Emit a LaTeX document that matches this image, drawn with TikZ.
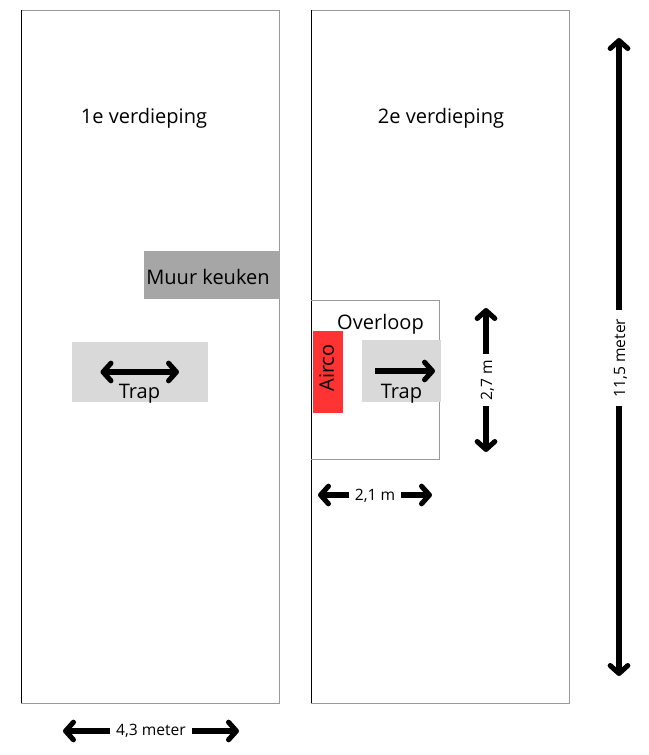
\documentclass[tikz,border=0pt]{standalone}
\usepackage{fontspec}
\setmainfont{Open Sans}
\usetikzlibrary{arrows.meta}
\tikzset{
    floorplan/.style={draw=gray!80, line width=0.5pt},
    wallline/.style={draw=black, line width=0.5pt},
    barbtip/.tip={Straight Barb[round, length=4.5pt, width=10pt, line width=2.9pt]},
    dimarrow/.style={-barbtip, line width=2.9pt},
    dimlabel/.style={font=\fontsize{8.9}{10}\selectfont, inner sep=0pt},
    roomlabel/.style={font=\fontsize{11.4}{14}\selectfont, inner sep=0pt}
}
\begin{document}
\begin{tikzpicture}[x=0.02cm, y=-0.02cm]
    \useasboundingbox (0,0) rectangle (649,755);
    % outlines
    \draw [floorplan] (21,10) rectangle (279,703);
    \draw [floorplan] (311,10) rectangle (569,703);
    \draw [wallline] (21,10) -- (21,703);
    \draw [wallline] (311,10) -- (311,703);
    \draw [floorplan] (311,300) -- (439,300) -- (439,459) -- (311,459);
    % filled parts
    \fill [gray!70] (144,251) rectangle (280,299);
    \fill [gray!30] (72,342) rectangle (208,402);
    \fill [gray!30] (362,340) rectangle (441,402);
    \fill [red!80!white] (313,331) rectangle (343,413);
    % texts
    \node (first) at (144,118) [roomlabel] {1e verdieping};
    \node (second) at (441,118) [roomlabel] {2e verdieping};
    \node (muur) at (208,277) [roomlabel] {Muur keuken};
    \node (overloop) at (380.5,324) [roomlabel] {Overloop};
    \node (airco) at (326.5,368) [roomlabel, rotate=90] {Airco};
    \node (trapa) at (139.5,394) [roomlabel] {Trap};
    \node (trapb) at (401.5,394) [roomlabel] {Trap};
    % arrows on the stairs
    \coordinate (trapaleft) at (100.5,372);
    \coordinate (traparight) at (179,372);
    \coordinate (trapbstart) at (375,371);
    \coordinate (trapbend) at (435,371);
    \draw [dimarrow, barbtip-barbtip] (trapaleft) -- (traparight);
    \draw [dimarrow] (trapbstart) -- (trapbend);
    % measures
    \node (height) at (620.5,358) [dimlabel, rotate=90, minimum width=95*0.02cm] {11,5 meter};
    \coordinate (heighttop) at (619,38);
    \coordinate (heightbottom) at (619,676);
    \draw [dimarrow] (heighttop |- height.east) -- (heighttop);
    \draw [dimarrow] (heightbottom |- height.west) -- (heightbottom);
    \node (width) at (151,731) [dimlabel, minimum width=82*0.02cm] {4,3 meter};
    \coordinate (widthleft) at (63,731);
    \coordinate (widthright) at (239,731);
    \draw [dimarrow] (width) -- (widthleft);
    \draw [dimarrow] (width) -- (widthright);
    \node (landing) at (487.5,380) [dimlabel, rotate=90, minimum width=52*0.02cm] {2,7 m};
    \coordinate (landingtop) at (486,308);
    \coordinate (landingbottom) at (486,452);
    \draw [dimarrow] (landingtop |- landing.east) -- (landingtop);
    \draw [dimarrow] (landingbottom |- landing.west) -- (landingbottom);
    \node (landingw) at (375,496) [dimlabel, minimum width=52*0.02cm] {2,1 m};
    \coordinate (landingleft) at (318,495);
    \coordinate (landingright) at (432,495);
    \draw [dimarrow] (landingw.west |- landingleft) -- (landingleft);
    \draw [dimarrow] (landingw.east |- landingright) -- (landingright);
\end{tikzpicture}
\end{document}
